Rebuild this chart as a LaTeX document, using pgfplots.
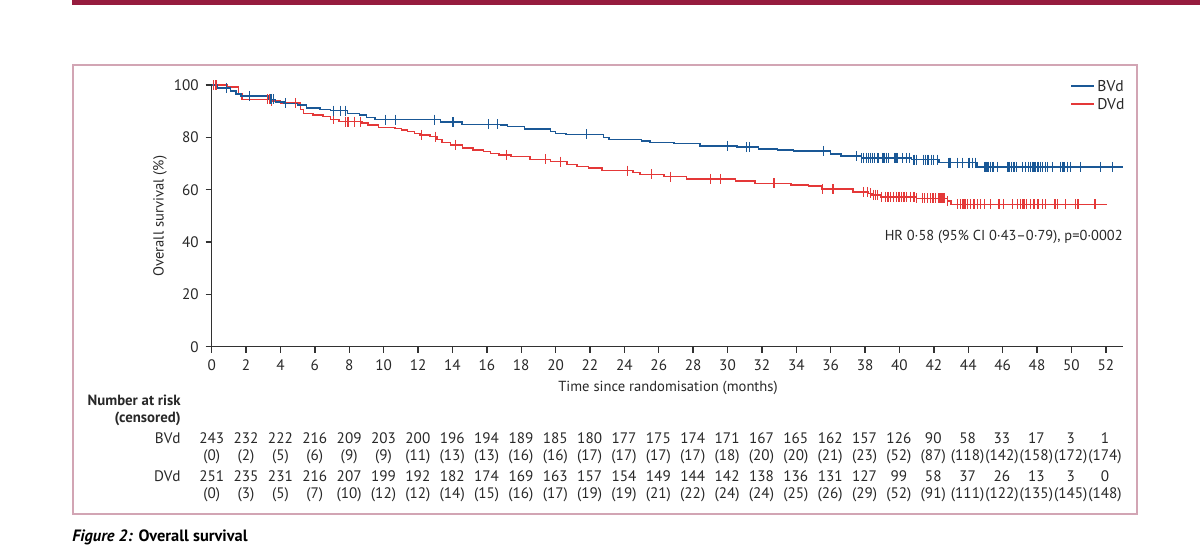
\documentclass[border=0pt]{standalone}
\usepackage{fontspec}
\setmainfont{PT Sans}
\usepackage{pgfplots}
\pgfplotsset{compat=1.18}
\definecolor{bvd}{RGB}{26,88,150}
\definecolor{dvd}{RGB}{228,56,56}
\definecolor{txt}{RGB}{40,40,40}
\definecolor{axc}{RGB}{50,50,50}
\definecolor{rulec}{RGB}{150,28,62}
\definecolor{boxc}{RGB}{210,165,180}
\newcommand\fs{\fontsize{7.6}{8.5}\selectfont}
\begin{document}
\begin{tikzpicture}[x=0.5pt,y=-0.5pt]
\fill[rulec] (72,0) rectangle (1200,4.5);
\draw[boxc, line width=0.8pt] (72.7,65) rectangle (1136.7,514);
\begin{axis}[at={(105.85pt,-173.35pt)}, anchor=south west, scale only axis,
  width=455.65pt, height=130.85pt,
  xmin=0, xmax=53, ymin=0, ymax=100,
  axis lines=left, axis line style={-, draw=axc, line width=0.7pt},
  xtick={0,2,...,52}, ytick={0,20,...,100},
  tick align=outside, major tick length=3pt,
  tick style={axc, line width=0.7pt},
  ticklabel style={font=\fs, text=txt},
  /pgf/number format/assume math mode=true,
  clip=false]
% DVd step curve
\addplot[const plot, dvd, line width=0.75pt, mark=none] coordinates {
(0,100)(0.9,99.2)(1.55,96.5)(1.75,94.5)(3.4,93.8)(4.0,93.2)(5.16,90.7)(5.35,89.2)
(5.9,88.5)(6.47,87.9)(6.9,86.9)(7.4,86.0)(8.75,85.4)(9.1,84.7)(9.7,83.8)(10.66,83.4)
(11.05,82.8)(11.4,82.2)(11.8,81.5)(12.1,80.9)(12.7,80.3)(13.1,79.2)(13.4,78.0)(13.9,77.1)
(14.6,76.0)(15.2,75.2)(15.8,74.5)(16.2,73.9)(16.7,73.3)(17.4,72.6)(18.5,71.6)(19.7,70.7)
(20.66,69.7)(21.25,68.8)(21.9,68.2)(22.7,67.3)(24.5,66.5)(24.9,65.9)(26.3,65.0)(27.6,64.1)
(30.46,63.4)(31.6,62.4)(33.7,61.8)(34.7,61.5)(35.5,60.2)(37.3,59.2)(38.2,58.6)(38.4,58.0)
(38.9,57.3)(41.0,56.7)(42.78,55.7)(43.0,54.4)(52.05,54.4)};
\addplot[only marks, dvd, mark=|, mark size=2.5pt, mark options={line width=0.6pt}] coordinates {
(0.1,100)(0.25,100)(3.26,94.5)(3.35,94.5)(3.49,93.8)(4.27,93.2)(4.86,93.2)(7.1,86.9)
(7.8,86.0)(7.93,86.0)(8.3,86.0)(8.65,86.0)(12.2,80.9)(13.0,80.3)(14.2,77.1)(17.13,73.3)
(19.4,71.6)(20.3,70.7)(24.2,67.3)(25.6,65.9)(26.7,65.0)(29.0,64.1)(29.6,64.1)(32.7,62.4)
(35.5,60.2)(36.13,60.2)(37.89,59.2)(38.13,59.2)(38.32,58.6)(38.47,58.0)(38.61,58.0)(38.74,58.0)
(38.94,57.3)(39.19,57.3)(39.33,57.3)(39.48,57.3)(39.64,57.3)(39.81,57.3)(39.97,57.3)(40.12,57.3)
(40.26,57.3)(40.41,57.3)(40.65,57.3)(40.84,57.3)
(41.0,56.7)(41.33,56.7)(41.46,56.7)(41.62,56.7)(41.81,56.7)(41.95,56.7)(42.1,56.7)(42.3,56.7)
(42.39,56.7)(42.43,56.7)(42.49,56.7)(42.59,56.7)(42.78,55.7)
(43.36,54.4)(43.56,54.4)(43.69,54.4)(43.81,54.4)(43.95,54.4)(44.14,54.4)(44.33,54.4)(44.53,54.4)
(44.72,54.4)(44.95,54.4)(45.3,54.4)(45.79,54.4)(46.04,54.4)(46.57,54.4)(46.86,54.4)(47.05,54.4)
(47.15,54.4)(47.24,54.4)(47.4,54.4)(47.63,54.4)(47.82,54.4)(48.06,54.4)(48.31,54.4)(48.5,54.4)
(49.05,54.4)(49.19,54.4)(49.67,54.4)(50.25,54.4)(50.38,54.4)(51.37,54.4)};
% BVd step curve
\addplot[const plot, bvd, line width=0.75pt, mark=none] coordinates {
(0,100)(0.3,98.8)(1.1,97.8)(1.4,96.6)(1.7,95.8)(3.3,94.5)(3.7,93.5)(4.2,93.0)(5.0,92.3)
(5.5,91.3)(6.3,90.7)(6.9,90.2)(7.9,89.2)(8.6,88.5)(9.0,87.5)(9.5,86.8)(13.3,85.8)(14.55,85.0)
(16.8,84.7)(17.2,84.1)(18.2,83.2)(19.7,82.2)(20.0,81.5)(20.6,81.1)(22.8,79.9)(23.1,79.2)
(25.0,78.6)(25.5,78.1)(26.9,77.7)(28.4,76.7)(30.56,76.3)(31.8,75.5)(32.9,75.2)(33.85,74.8)
(36.0,73.6)(36.6,72.9)(37.8,72.2)(40.7,71.5)(42.3,70.3)(44.5,68.7)(53,68.7)};
\addplot[only marks, bvd, mark=|, mark size=2.5pt, mark options={line width=0.6pt}] coordinates {
(0.87,98.8)(2.2,95.8)(3.45,94.5)(3.6,94.5)(4.27,93.0)(7.08,90.2)(7.47,90.2)(7.76,90.2)
(10.09,86.8)(10.67,86.8)(12.96,86.8)(14.03,85.8)(16.1,85.0)(16.6,85.0)(21.8,81.1)(29.98,76.7)
(31.1,76.3)(31.26,76.3)(35.56,74.8)(37.5,72.9)(37.8,72.2)
(37.93,72.2)(38.07,72.2)(38.18,72.2)(38.32,72.2)(38.45,72.2)(38.55,72.2)(38.71,72.2)(38.8,72.2)
(39.03,72.2)(39.09,72.2)(39.15,72.2)(39.23,72.2)(39.37,72.2)(39.71,72.2)(39.77,72.2)(39.83,72.2)
(39.89,72.2)(40.16,72.2)(40.4,72.2)(40.6,72.2)
(40.84,71.5)(40.97,71.5)(41.42,71.5)(41.52,71.5)(41.62,71.5)(41.71,71.5)(41.85,71.5)(42.0,71.5)(42.2,71.5)
(42.88,70.3)(42.97,70.3)(43.36,70.3)(43.65,70.3)(44.04,70.3)(44.24,70.3)(44.43,70.3)
(44.97,68.7)(45.05,68.7)(45.15,68.7)(45.3,68.7)(45.44,68.7)(45.69,68.7)(46.27,68.7)(46.37,68.7)
(46.51,68.7)(46.66,68.7)(46.82,68.7)(47.15,68.7)(47.34,68.7)(47.5,68.7)(47.63,68.7)(47.77,68.7)
(47.88,68.7)(48.06,68.7)(48.21,68.7)(48.31,68.7)(48.5,68.7)(48.6,68.7)(48.89,68.7)(49.38,68.7)
(49.48,68.7)(49.57,68.7)(49.77,68.7)(49.96,68.7)(50.54,68.7)(51.71,68.7)(52.39,68.7)};
\end{axis}
% legend
\draw[bvd, line width=0.75pt] (1071,86)--(1094,86);
\node[anchor=west, font=\fontsize{7.8}{8.5}\selectfont, text=txt, inner sep=0pt] at (1097,86) {BVd};
\draw[dvd, line width=0.75pt] (1071,104)--(1094,104);
\node[anchor=west, font=\fontsize{7.8}{8.5}\selectfont, text=txt, inner sep=0pt] at (1097,104) {DVd};
% annotation
\node[anchor=east, font=\fontsize{7.2}{8}\selectfont, text=txt, inner sep=0pt] at (1123,237) {HR 0·58 (95\% CI 0·43–0·79), p=0·0002};
% axis labels
\node[font=\fontsize{7.3}{8}\selectfont, text=txt] at (668,388) {Time since randomisation (months)};
\node[rotate=90, font=\fontsize{7.3}{8}\selectfont, text=txt] at (160,216) {Overall survival (\%)};
% number at risk
\node[anchor=east, font=\fontsize{7.4}{8}\selectfont\bfseries, text=txt, inner sep=0pt] at (181,400) {Number at risk};
\node[anchor=east, font=\fontsize{7.4}{8}\selectfont\bfseries, text=txt, inner sep=0pt] at (181,419) {(censored)};
\node[anchor=east, font=\fs, text=txt, inner sep=0pt] at (181,438) {BVd};
\node[anchor=east, font=\fs, text=txt, inner sep=0pt] at (181,476) {DVd};
\foreach \v [count=\i from 0] in {243,232,222,216,209,203,200,196,194,189,185,180,177,175,174,171,167,165,162,157,126,90,58,33,17,3,1}
  \node[font=\fs, text=txt, inner sep=0pt] at ({211.7+34.36*\i},438) {\v};
\foreach \v [count=\i from 0] in {0,2,5,6,9,9,11,13,13,16,16,17,17,17,17,18,20,20,21,23,52,87,118,142,158,172,174}
  \node[font=\fs, text=txt, inner sep=0pt] at ({211.7+34.36*\i},457) {(\v)};
\foreach \v [count=\i from 0] in {251,235,231,216,207,199,192,182,174,169,163,157,154,149,144,142,138,136,131,127,99,58,37,26,13,3,0}
  \node[font=\fs, text=txt, inner sep=0pt] at ({211.7+34.36*\i},476) {\v};
\foreach \v [count=\i from 0] in {0,3,5,7,10,12,12,14,15,16,17,19,19,21,22,24,24,25,26,29,52,91,111,122,135,145,148}
  \node[font=\fs, text=txt, inner sep=0pt] at ({211.7+34.36*\i},495) {(\v)};
% caption
\node[anchor=west, font=\fontsize{8.2}{9}\selectfont\bfseries, text=black, inner sep=0pt] at (72,537) {\textit{Figure 2:} Overall survival};
\pgfresetboundingbox
\useasboundingbox (0,0) rectangle (1200,554);
\end{tikzpicture}
\end{document}
